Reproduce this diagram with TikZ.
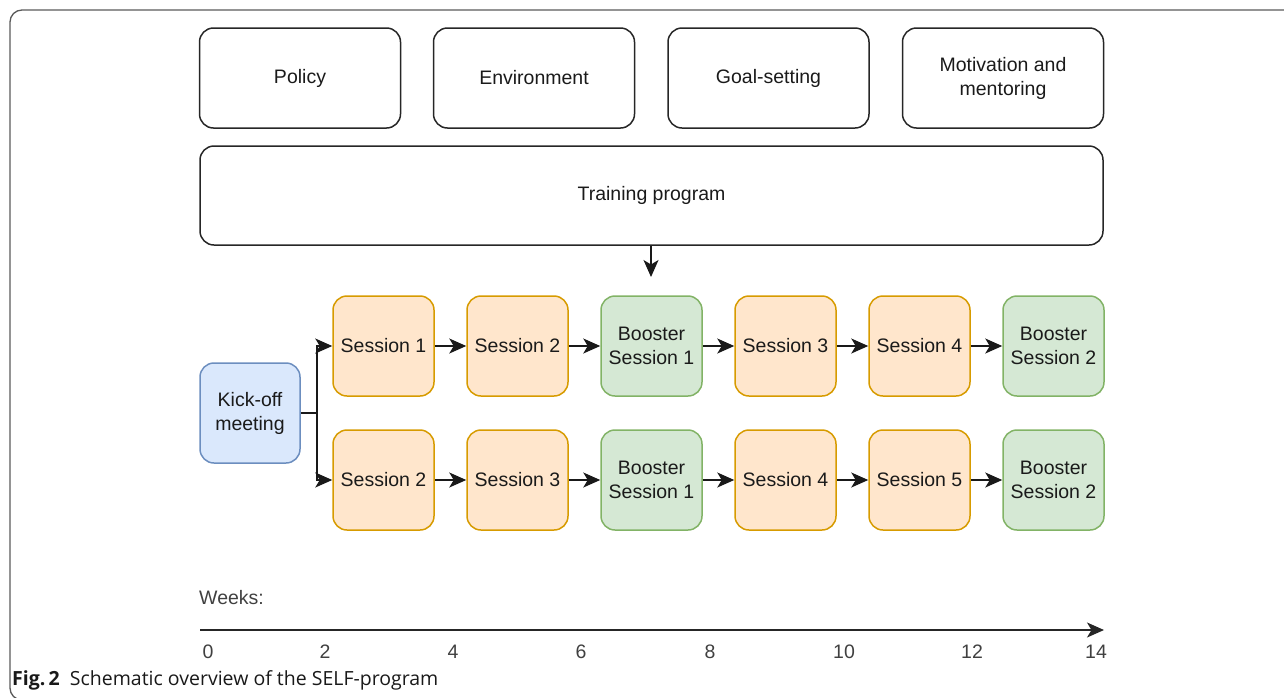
\documentclass[tikz,border=0pt]{standalone}
\usepackage{fontspec}
\setmainfont{Liberation Sans}
\newfontfamily\capfont{Open Sans}
\usetikzlibrary{arrows.meta}
\definecolor{orfill}{HTML}{FFE6CC}
\definecolor{ordraw}{HTML}{D79B00}
\definecolor{grfill}{HTML}{D5E8D4}
\definecolor{grdraw}{HTML}{82B366}
\definecolor{blfill}{HTML}{DAE8FC}
\definecolor{bldraw}{HTML}{6C8EBF}
\definecolor{txt}{HTML}{1A1A1A}
\definecolor{framec}{HTML}{5A5A5A}
\tikzset{
  box/.style={draw=black!85, line width=1.5pt, rounded corners=14pt, align=center,
    font=\fontsize{19.5}{24}\selectfont, text=txt, inner sep=0pt},
  topbox/.style={box, minimum width=201pt, minimum height=100pt},
  sess/.style={box, draw=ordraw, fill=orfill, minimum width=101pt, minimum height=100pt},
  boost/.style={box, draw=grdraw, fill=grfill, minimum width=101pt, minimum height=100pt},
  kick/.style={box, draw=bldraw, fill=blfill, minimum width=100pt, minimum height=100pt},
  tip/.style={-{Stealth[length=17pt 0,width=15pt 0,inset=4.5pt 0]}},
  conn/.style={line width=1.5pt, draw=black!90, tip},
  plain/.style={line width=1.5pt, draw=black!90},
  tick/.style={font=\fontsize{19.5}{24}\selectfont, text=black!75, inner sep=0pt}
}
\begin{document}
\begin{tikzpicture}[x=1pt,y=-1pt]
\useasboundingbox (0,0) rectangle (1284,697);
% frame
\draw[framec, line width=1.3pt, rounded corners=12pt] (1290,10) -- (10,10) -- (10,700) -- (30,700);
% top boxes
\node[topbox] (policy) at (300,78) {Policy};
\node[topbox] (env) at (534,78) {Environment};
\node[topbox] (goal) at (768.5,78) {Goal-setting};
\node[topbox] (motiv) at (1003,78) {Motivation and\\mentoring};
\node[box, minimum width=903pt, minimum height=99pt] (train) at (651.5,195.5) {Training program};
\coordinate (arrend) at (651,277);
\draw[conn] (train.south -| arrend) -- (arrend);
% kick-off
\node[kick] (kick) at (250,413) {Kick-off\\meeting};
% row 1
\node[sess] (a1) at (383.5,346) {Session 1};
\node[sess] (a2) at (517.5,346) {Session 2};
\node[boost] (a3) at (651.5,346) {Booster\\Session 1};
\node[sess] (a4) at (785.5,346) {Session 3};
\node[sess] (a5) at (919.5,346) {Session 4};
\node[boost] (a6) at (1053.5,346) {Booster\\Session 2};
% row 2
\node[sess] (b1) at (383.5,480) {Session 2};
\node[sess] (b2) at (517.5,480) {Session 3};
\node[boost] (b3) at (651.5,480) {Booster\\Session 1};
\node[sess] (b4) at (785.5,480) {Session 4};
\node[sess] (b5) at (919.5,480) {Session 5};
\node[boost] (b6) at (1053.5,480) {Booster\\Session 2};
% branch connectors
\coordinate (br) at (317,413);
\draw[plain] (kick.east) -- (br);
\draw[conn] (br) |- (a1.west);
\draw[conn] (br) |- (b1.west);
% chains
\foreach \p/\q in {a1/a2,a2/a3,a3/a4,a4/a5,a5/a6,b1/b2,b2/b3,b3/b4,b4/b5,b5/b6}{
  \draw[conn] (\p.east) -- (\q.west);
}
% axis
\node[tick, anchor=west] (weeks) at (199,598) {Weeks:};
\coordinate (ax0) at (200,630);
\coordinate (ax1) at (1104,630);
\draw[line width=1.5pt, draw=black!85, tip] (ax0) -- (ax1);
\foreach \v/\xx in {0/208,2/325,4/453,6/581,8/710,10/844,12/972,14/1096}{
  \node[tick] (t\v) at (\xx,652) {\v};
}
% caption
\node[anchor=west, inner sep=0pt, font=\capfont\fontsize{19.5}{22}\selectfont, text=black!90] (cap) at (12,680) {\textbf{Fig.\,2}\ \ Schematic overview of the SELF-program};
\end{tikzpicture}
\end{document}
